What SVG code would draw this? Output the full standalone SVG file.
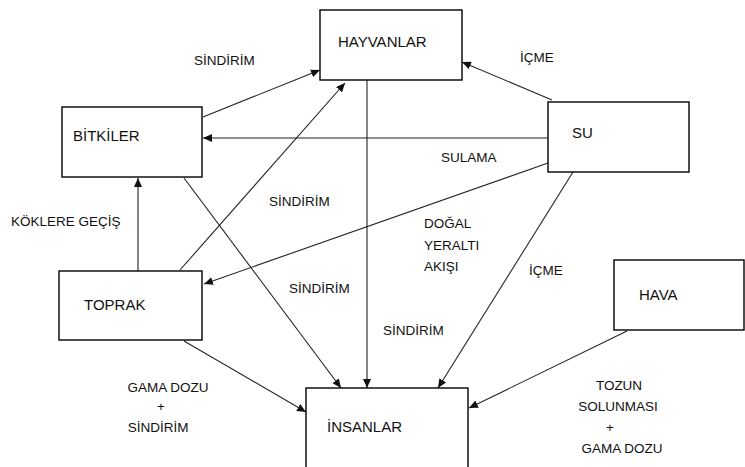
<svg xmlns="http://www.w3.org/2000/svg" width="745" height="467" viewBox="0 0 745 467">
<style>
.box{fill:#fff;stroke:#000;stroke-width:1.4}
.nt{font-family:"Liberation Sans",Arial,sans-serif;font-size:15px;fill:#111}
.lb{font-family:"Liberation Sans",Arial,sans-serif;font-size:13.5px;fill:#111}
.c{text-anchor:middle}
.ln{fill:none;stroke:#222;stroke-width:1.1;marker-end:url(#ah)}
</style>
<defs>
<marker id="ah" markerUnits="userSpaceOnUse" markerWidth="10" markerHeight="8" refX="9" refY="4" orient="auto">
<path d="M0,0 L9,4 L0,8 Z" fill="#111"/>
</marker>
</defs>
<rect width="745" height="467" fill="#fff"/>
<g id="connectors">
<line class="ln" x1="203" y1="117" x2="320" y2="70"/>
<line class="ln" x1="548" y1="138" x2="203" y2="138"/>
<line class="ln" x1="552" y1="100" x2="462" y2="62"/>
<line class="ln" x1="180" y1="270" x2="345" y2="83"/>
<line class="ln" x1="184" y1="178" x2="341" y2="388"/>
<line class="ln" x1="138" y1="271" x2="138" y2="178"/>
<line class="ln" x1="548" y1="163" x2="204" y2="284"/>
<line class="ln" x1="367" y1="80" x2="367" y2="388"/>
<line class="ln" x1="573" y1="172" x2="438" y2="388"/>
<line class="ln" x1="184" y1="341" x2="306" y2="412"/>
<line class="ln" x1="627" y1="331" x2="469" y2="408"/>
</g>
<g id="hayvanlar"><rect class="box" x="320" y="10" width="142" height="70"/><text class="nt" x="338" y="47">HAYVANLAR</text></g>
<g id="bitkiler"><rect class="box" x="62" y="107" width="140" height="70"/><text class="nt" x="73" y="141">BİTKİLER</text></g>
<g id="su"><rect class="box" x="548" y="102" width="141" height="70"/><text class="nt" x="572" y="138">SU</text></g>
<g id="toprak"><rect class="box" x="59" y="271" width="143" height="69"/><text class="nt" x="84" y="310">TOPRAK</text></g>
<g id="hava"><rect class="box" x="614" y="260" width="130" height="70"/><text class="nt" x="639" y="300">HAVA</text></g>
<g id="insanlar"><rect class="box" x="306" y="388" width="162" height="90"/><text class="nt" x="327" y="432">İNSANLAR</text></g>
<g id="labels">
<text class="lb" x="194" y="65">SİNDİRİM</text>
<text class="lb" x="520" y="62">İÇME</text>
<text class="lb" x="441" y="162">SULAMA</text>
<text class="lb" x="269" y="206">SİNDİRİM</text>
<text class="lb" x="11" y="226">KÖKLERE GEÇİŞ</text>
<text class="lb" x="424" y="228">DOĞAL</text>
<text class="lb" x="424" y="250">YERALTI</text>
<text class="lb" x="424" y="271">AKIŞI</text>
<text class="lb" x="529" y="275">İÇME</text>
<text class="lb" x="289" y="293">SİNDİRİM</text>
<text class="lb" x="383" y="335">SİNDİRİM</text>
<text class="lb c" x="168" y="392">GAMA DOZU</text>
<text class="lb c" x="161" y="411">+</text>
<text class="lb c" x="158" y="432">SİNDİRİM</text>
<text class="lb c" x="619" y="390">TOZUN</text>
<text class="lb c" x="618" y="411">SOLUNMASI</text>
<text class="lb c" x="610" y="432">+</text>
<text class="lb c" x="622" y="453">GAMA DOZU</text>
</g>
</svg>
